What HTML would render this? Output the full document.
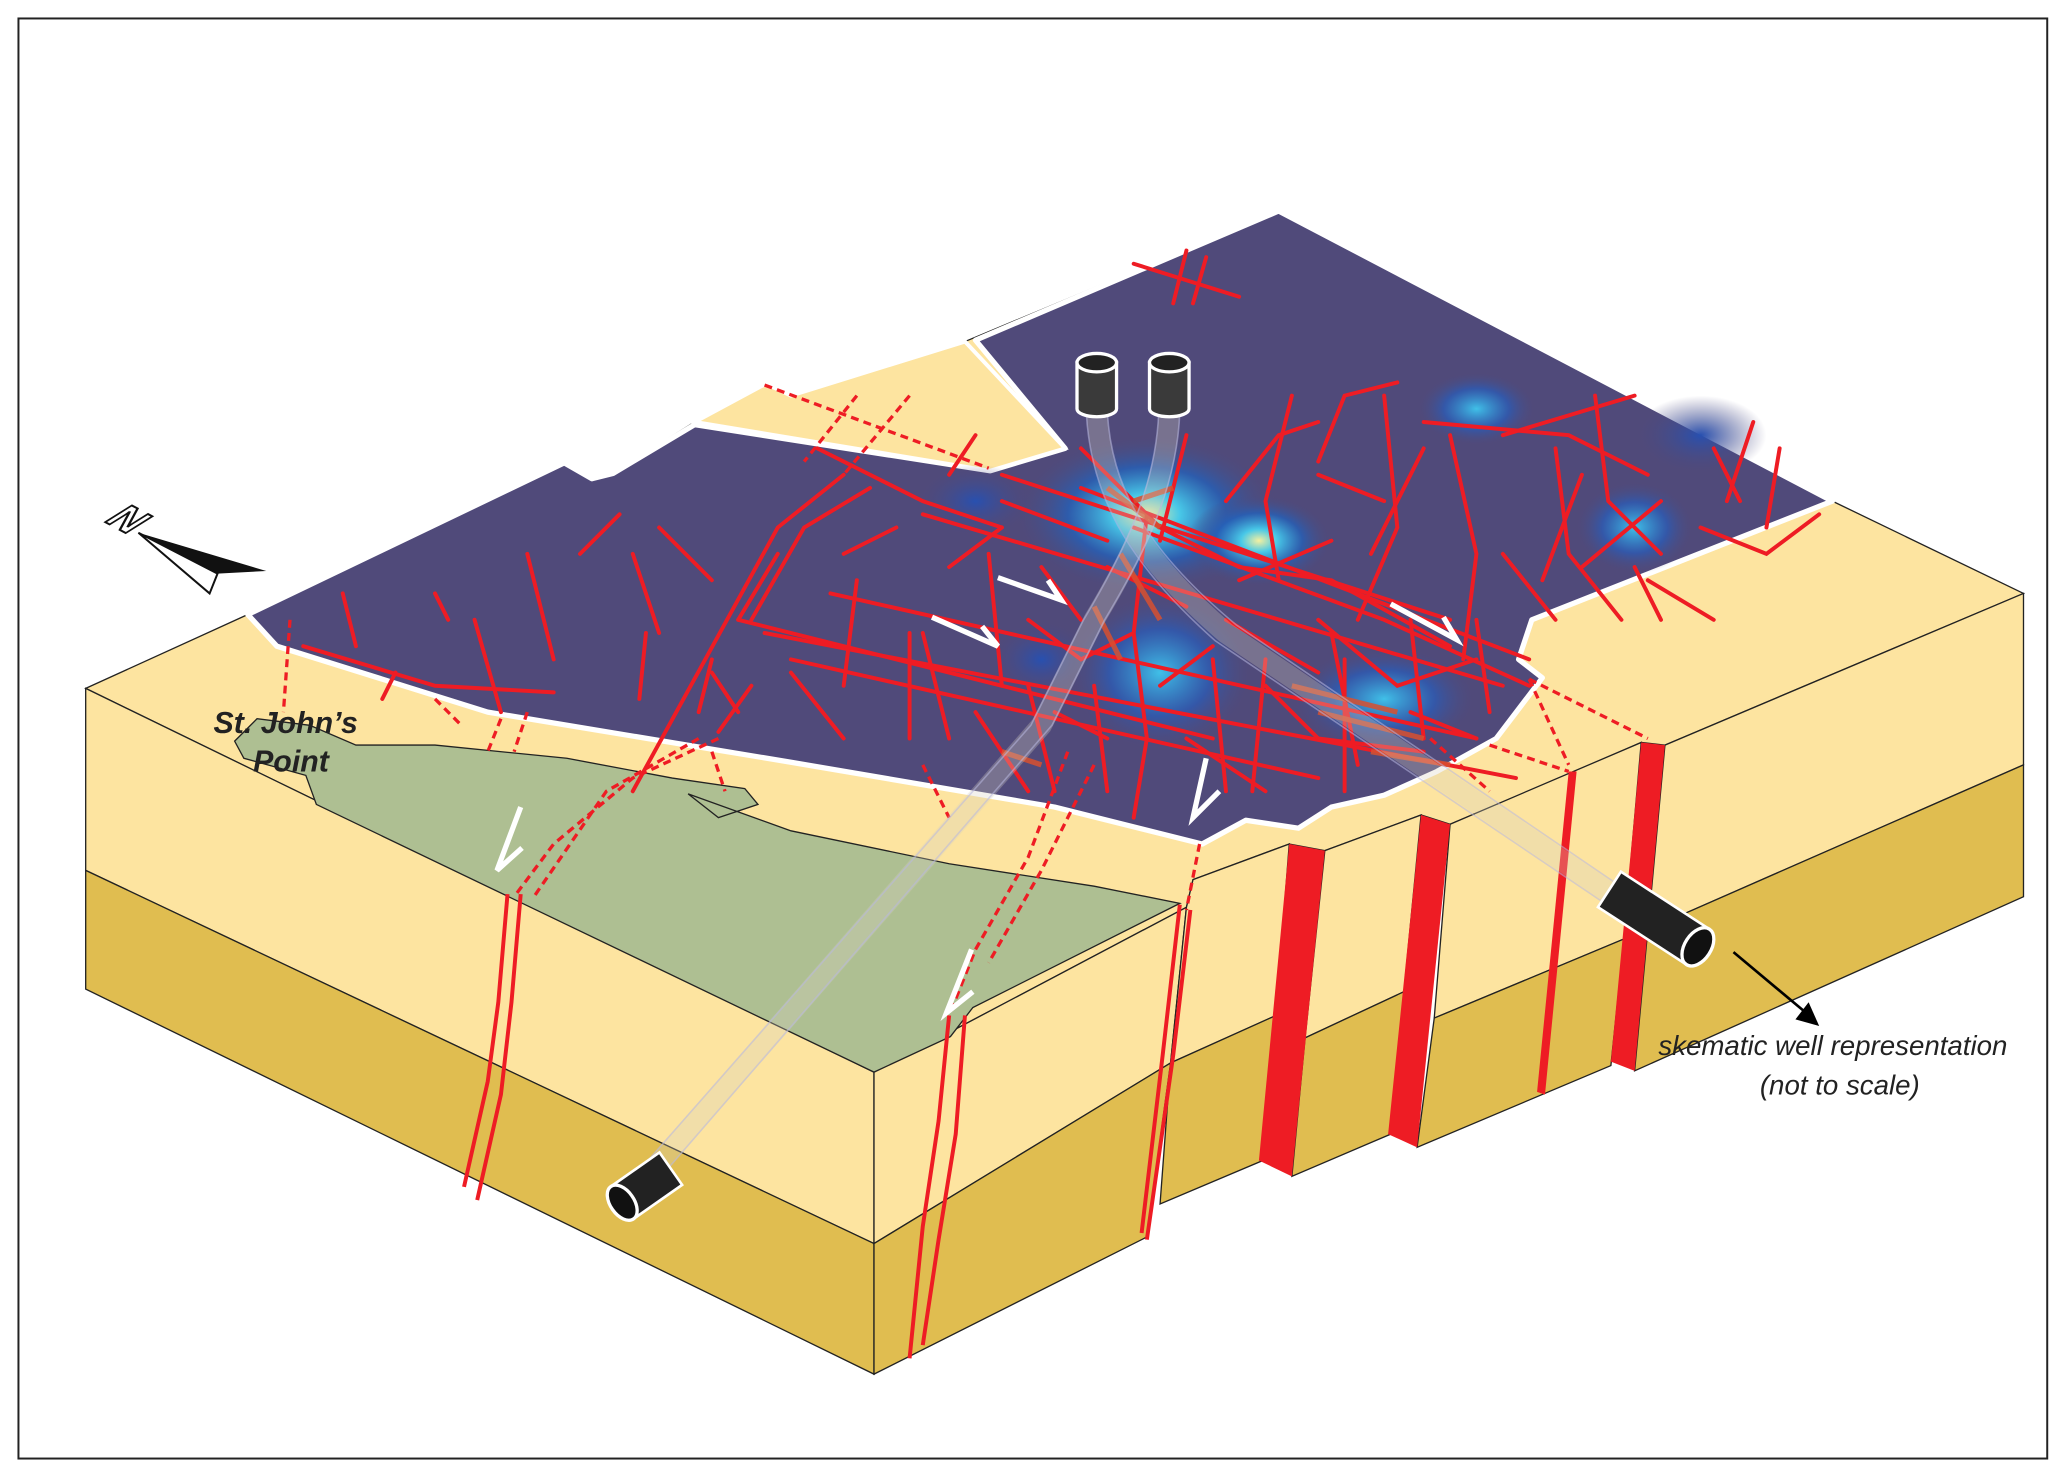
<!DOCTYPE html>
<html><head><meta charset="utf-8"><style>
html,body{margin:0;padding:0;background:#fff;width:2067px;height:1477px;overflow:hidden}
svg{display:block}
</style></head><body>
<svg width="2067" height="1477" viewBox="0 0 1568 1120" preserveAspectRatio="none" xmlns="http://www.w3.org/2000/svg">
<defs>
<radialGradient id="g1"><stop offset="0" stop-color="#f4f0a0"/><stop offset="0.25" stop-color="#48c8e8"/><stop offset="0.6" stop-color="#2560b8" stop-opacity="0.8"/><stop offset="1" stop-color="#504a7a" stop-opacity="0"/></radialGradient>
<radialGradient id="g2"><stop offset="0" stop-color="#40c0e8"/><stop offset="0.55" stop-color="#2a5cb8" stop-opacity="0.75"/><stop offset="1" stop-color="#504a7a" stop-opacity="0"/></radialGradient>
<radialGradient id="g3"><stop offset="0" stop-color="#2850b0"/><stop offset="1" stop-color="#504a7a" stop-opacity="0"/></radialGradient>
</defs>
<rect x="0" y="0" width="1568" height="1120" fill="#fff"/>
<rect x="14" y="14" width="1539" height="1092" fill="none" stroke="#222" stroke-width="1.5"/>
<!-- top face -->
<polygon points="65,522 188,466 428,351 449,363 465,359 527,320 581,291 600,300 732,259 970,160 1390,380 1535,450 1263,565 1245,563 1196,585 1100,625 1078,618 1005,645 978,640 905,667 900,688 663,813" fill="#fde4a0" stroke="#222" stroke-width="1"/>
<!-- left face -->
<polygon points="65,522 663,813 663,943 65,660" fill="#fde4a0" stroke="#222" stroke-width="1"/>
<polygon points="65,660 663,943 663,1042 65,750" fill="#e0bd50" stroke="#222" stroke-width="1"/>
<!-- right face blocks -->
<g stroke="#222" stroke-width="1">
<polygon points="663,813 900,688 888,806 663,943" fill="#fde4a0"/>
<polygon points="663,943 888,806 870,938 663,1042" fill="#e0bd50"/>
<polygon points="905,667 978,640 968,770 888,806 900,688" fill="#fde4a0"/>
<polygon points="888,806 968,770 958,880 880,913" fill="#e0bd50"/>
<polygon points="1005,645 1078,618 1065,752 990,787" fill="#fde4a0"/>
<polygon points="990,787 1065,752 1055,860 980,892" fill="#e0bd50"/>
<polygon points="1100,625 1245,563 1232,712 1088,772" fill="#fde4a0"/>
<polygon points="1088,772 1232,712 1222,808 1075,870" fill="#e0bd50"/>
<polygon points="1263,565 1535,450 1535,580 1250,705" fill="#fde4a0"/>
<polygon points="1250,705 1535,580 1535,680 1240,812" fill="#e0bd50"/>
</g>
<!-- green -->
<polygon points="178,562 195,545 235,550 270,565 330,565 430,575 510,590 565,598 575,610 545,620 522,602 600,630 720,655 830,672 895,685 738,764 721,786 663,813 240,610 232,588 185,575" fill="#aebf92" stroke="#222" stroke-width="1"/>
<!-- purple map -->
<polygon points="188,466 428,351 449,363 465,359 527,322 751,357 808,340 740,258 970,160 1390,380 1162,470 1152,500 1170,514 1135,560 1090,585 1050,603 1010,612 985,628 945,622 912,640 800,612 600,578 370,540 210,490" fill="#504a7a" stroke="#fff" stroke-width="4" stroke-linejoin="round"/>
<polygon points="527,320 581,291 600,300 732,259 808,340 751,357" fill="#fde4a0" stroke="#fff" stroke-width="3"/>
<!-- glows -->
<ellipse cx="870" cy="390" rx="100" ry="60" fill="url(#g1)"/>
<ellipse cx="955" cy="410" rx="55" ry="35" fill="url(#g1)"/>
<ellipse cx="880" cy="510" rx="70" ry="60" fill="url(#g2)"/>
<ellipse cx="1050" cy="530" rx="70" ry="40" fill="url(#g2)"/>
<ellipse cx="1120" cy="310" rx="45" ry="28" fill="url(#g2)"/>
<ellipse cx="1240" cy="400" rx="45" ry="35" fill="url(#g2)"/>
<ellipse cx="740" cy="380" rx="45" ry="28" fill="url(#g3)"/>
<ellipse cx="790" cy="500" rx="40" ry="30" fill="url(#g3)"/>
<ellipse cx="1290" cy="330" rx="50" ry="30" fill="url(#g3)"/>
<!-- red faults on map -->
<g stroke="#ee1c24" stroke-width="3" fill="none" stroke-linecap="round">
<path d="M580,480 L1150,590"/><path d="M630,450 L1120,560"/><path d="M560,470 L920,560"/>
<path d="M700,390 L1140,520"/><path d="M760,360 L1100,470"/><path d="M820,370 L1160,500"/>
<path d="M860,400 L1050,470 L1160,520"/><path d="M600,500 L1000,590"/>
<path d="M480,600 L590,400 L640,360"/><path d="M570,470 L610,400 L660,370"/>
<path d="M820,340 L880,400 L940,430 L1010,440 L1100,490"/>
<path d="M870,390 L860,480 L870,560 L860,620"/><path d="M900,330 L880,410"/>
<path d="M1050,300 L1060,400 L1030,470"/><path d="M1100,330 L1120,420 L1110,500"/>
<path d="M980,300 L960,380 L970,440"/><path d="M1180,340 L1190,420 L1230,470"/>
<path d="M1080,320 L1190,330 L1250,360"/><path d="M1200,360 L1170,440"/>
<path d="M1300,340 L1320,380"/><path d="M1140,420 L1180,470"/>
<path d="M1000,350 L1020,300 L1060,290"/><path d="M1140,330 L1240,300"/><path d="M1210,300 L1220,380 L1260,420"/>
<path d="M1330,320 L1310,380"/><path d="M1350,340 L1340,400"/><path d="M1290,400 L1340,420 L1380,390"/>
<path d="M1250,440 L1300,470"/><path d="M1200,430 L1260,380"/><path d="M1080,340 L1040,420"/>
<path d="M930,380 L970,330 L1000,320"/><path d="M940,440 L1010,410"/><path d="M1000,470 L1060,520 L1120,500"/>
<path d="M960,520 L1000,560 L1080,570"/><path d="M900,560 L960,600"/><path d="M1020,500 L1020,600"/>
<path d="M920,500 L930,600"/><path d="M1120,470 L1130,540"/><path d="M1070,540 L1120,560"/>
<path d="M230,490 L330,520 L420,525"/><path d="M260,450 L270,490"/>
<path d="M360,470 L380,540"/><path d="M400,420 L420,500"/>
<path d="M440,420 L470,390"/><path d="M480,420 L500,480"/><path d="M500,400 L540,440"/>
<path d="M485,530 L490,480"/><path d="M530,540 L540,500"/><path d="M545,555 L570,520"/>
<path d="M700,480 L720,560"/><path d="M720,430 L760,400"/><path d="M640,420 L680,400"/>
<path d="M650,440 L640,520"/><path d="M690,480 L690,560"/><path d="M750,420 L760,520"/>
<path d="M780,520 L800,600"/><path d="M830,520 L840,600"/><path d="M960,500 L950,600"/>
<path d="M1010,480 L1030,580"/><path d="M1070,470 L1080,560"/>
<path d="M860,200 L940,225"/><path d="M900,190 L890,230"/><path d="M915,195 L905,230"/>
<path d="M620,340 L700,380 L760,400"/><path d="M590,420 L560,470"/>
<path d="M330,450 L340,470"/><path d="M300,510 L290,530"/><path d="M540,510 L560,540"/>
<path d="M1240,430 L1260,470"/><path d="M1000,360 L1050,380"/><path d="M930,470 L1000,510"/>
<path d="M720,360 L740,330"/><path d="M790,430 L820,470"/><path d="M600,510 L640,560"/>
<path d="M760,380 L840,410"/><path d="M780,470 L820,500 L860,480"/><path d="M840,430 L900,460"/>
<path d="M880,520 L920,490"/><path d="M800,540 L840,560"/><path d="M740,540 L780,600"/>
</g>
<g stroke="#d85030" stroke-width="4" fill="none" opacity="0.85">
<path d="M840,370 L880,400"/><path d="M850,420 L880,470"/><path d="M830,460 L850,500"/>
<path d="M980,520 L1060,540"/><path d="M1000,540 L1080,560"/><path d="M1040,570 L1100,580"/>
<path d="M760,570 L790,580"/><path d="M860,380 L890,370"/>
</g>
<!-- dashed faults -->
<g stroke="#ee1c24" stroke-width="2.5" fill="none" stroke-dasharray="6,4">
<path d="M580,292 L750,355"/><path d="M690,300 L640,360"/><path d="M650,300 L610,350"/>
<path d="M220,470 L215,540"/><path d="M545,560 L480,590 L420,640 L390,680"/><path d="M530,560 L460,600 L405,680"/>
<path d="M810,570 L780,650 L740,720 L720,770"/><path d="M830,580 L790,660 L750,730"/>
<path d="M910,640 L900,690"/><path d="M1160,515 L1190,580"/><path d="M1160,515 L1250,560"/>
<path d="M1085,560 L1130,600"/><path d="M1130,565 L1190,585"/><path d="M700,580 L720,620"/><path d="M540,570 L550,600"/>
<path d="M330,530 L350,550"/><path d="M380,545 L370,570"/><path d="M400,540 L390,570"/>
</g>
<!-- fault planes on front faces -->
<g stroke="#ee1c24" stroke-width="3" fill="none">
<path d="M385,678 L378,760 L370,820 L352,900"/><path d="M395,678 L388,760 L380,830 L362,910"/>
<path d="M720,770 L712,850 L700,930 L690,1030"/><path d="M732,770 L725,860 L712,940 L700,1020"/>
<path d="M903,690 L890,800 L870,940"/><path d="M895,686 L882,800 L866,935"/>
</g>
<polygon points="978,640 1005,645 980,892 955,880" fill="#ee1c24"/>
<polygon points="1078,618 1100,625 1075,870 1053,860" fill="#ee1c24"/>
<polygon points="1190,585 1196,585 1172,830 1166,828" fill="#ee1c24"/>
<polygon points="1245,563 1263,565 1240,812 1222,805" fill="#ee1c24"/>
<!-- white arrows -->
<g stroke="#fff" stroke-width="4" fill="none">
<path d="M757,438 L805,455 L795,440"/><path d="M707,468 L757,490 L745,475"/>
<path d="M1055,458 L1105,485 L1095,468"/><path d="M915,575 L905,620 L925,600"/>
<path d="M395,612 L377,660 L396,643"/><path d="M737,720 L718,768 L738,752"/>
</g>
<!-- translucent well tubes (crossing) -->
<g fill="none" stroke-linecap="round">
<path d="M887,312 C885,370 860,420 830,470 L790,550 L480,905" stroke="#d8d0c0" stroke-opacity="0.3" stroke-width="16"/>
<path d="M832,312 C835,370 860,420 930,480 L1255,700" stroke="#d8d0c0" stroke-opacity="0.3" stroke-width="16"/>
<g stroke="#b8b8e0" stroke-opacity="0.55" stroke-width="1.2">
<path d="M879,312 C877,370 852,420 822,470 L782,550 L474,900"/>
<path d="M895,312 C893,370 868,420 838,470 L798,550 L486,910"/>
<path d="M824,312 C827,372 852,424 922,486 L1250,707"/>
<path d="M840,312 C843,368 868,416 938,474 L1260,693"/>
</g>
</g>
<!-- wells vertical -->
<g stroke="#fff" stroke-width="2.5">
<path d="M817,275 L817,310 A15,6 0 0 0 847,310 L847,275 Z" fill="#3a3a3a"/><ellipse cx="832" cy="275" rx="15" ry="7" fill="#222"/>
<path d="M872,275 L872,310 A15,6 0 0 0 902,310 L902,275 Z" fill="#3a3a3a"/><ellipse cx="887" cy="275" rx="15" ry="7" fill="#222"/>
</g>
<g transform="translate(472,912) rotate(-35)"><rect x="0" y="-15" width="45" height="30" fill="#222" stroke="#fff" stroke-width="2"/><ellipse cx="0" cy="0" rx="9" ry="15" fill="#111" stroke="#fff" stroke-width="2.5"/></g>
<g transform="translate(1288,718) rotate(33)"><rect x="-80" y="-16" width="80" height="32" fill="#222" stroke="#fff" stroke-width="2"/><ellipse cx="0" cy="0" rx="10" ry="16" fill="#111" stroke="#fff" stroke-width="2.5"/></g>
<!-- label arrow -->
<line x1="1315" y1="722" x2="1370" y2="768" stroke="#000" stroke-width="2"/>
<polygon points="1380,778 1362,773 1372,760" fill="#000"/>
<text x="1258" y="800" font-family="Liberation Sans, sans-serif" font-style="italic" font-size="21" fill="#222">skematic well representation</text>
<text x="1335" y="830" font-family="Liberation Sans, sans-serif" font-style="italic" font-size="21" fill="#222">(not to scale)</text>
<text x="162" y="556" font-family="Liberation Sans, sans-serif" font-style="italic" font-weight="bold" font-size="23" fill="#222">St. John’s</text>
<text x="192" y="585" font-family="Liberation Sans, sans-serif" font-style="italic" font-weight="bold" font-size="23" fill="#222">Point</text>
<!-- north arrow -->
<polygon points="105,404 202,433 165,435" fill="#111"/>
<polygon points="105,404 165,435 159,450" fill="#fff" stroke="#111" stroke-width="1.5"/>
<text x="0" y="0" font-family="Liberation Sans, sans-serif" font-size="30" font-weight="bold" fill="#fff" stroke="#111" stroke-width="1.5" transform="translate(78,395) rotate(28) skewX(-30)">N</text>
</svg>
</body></html>
